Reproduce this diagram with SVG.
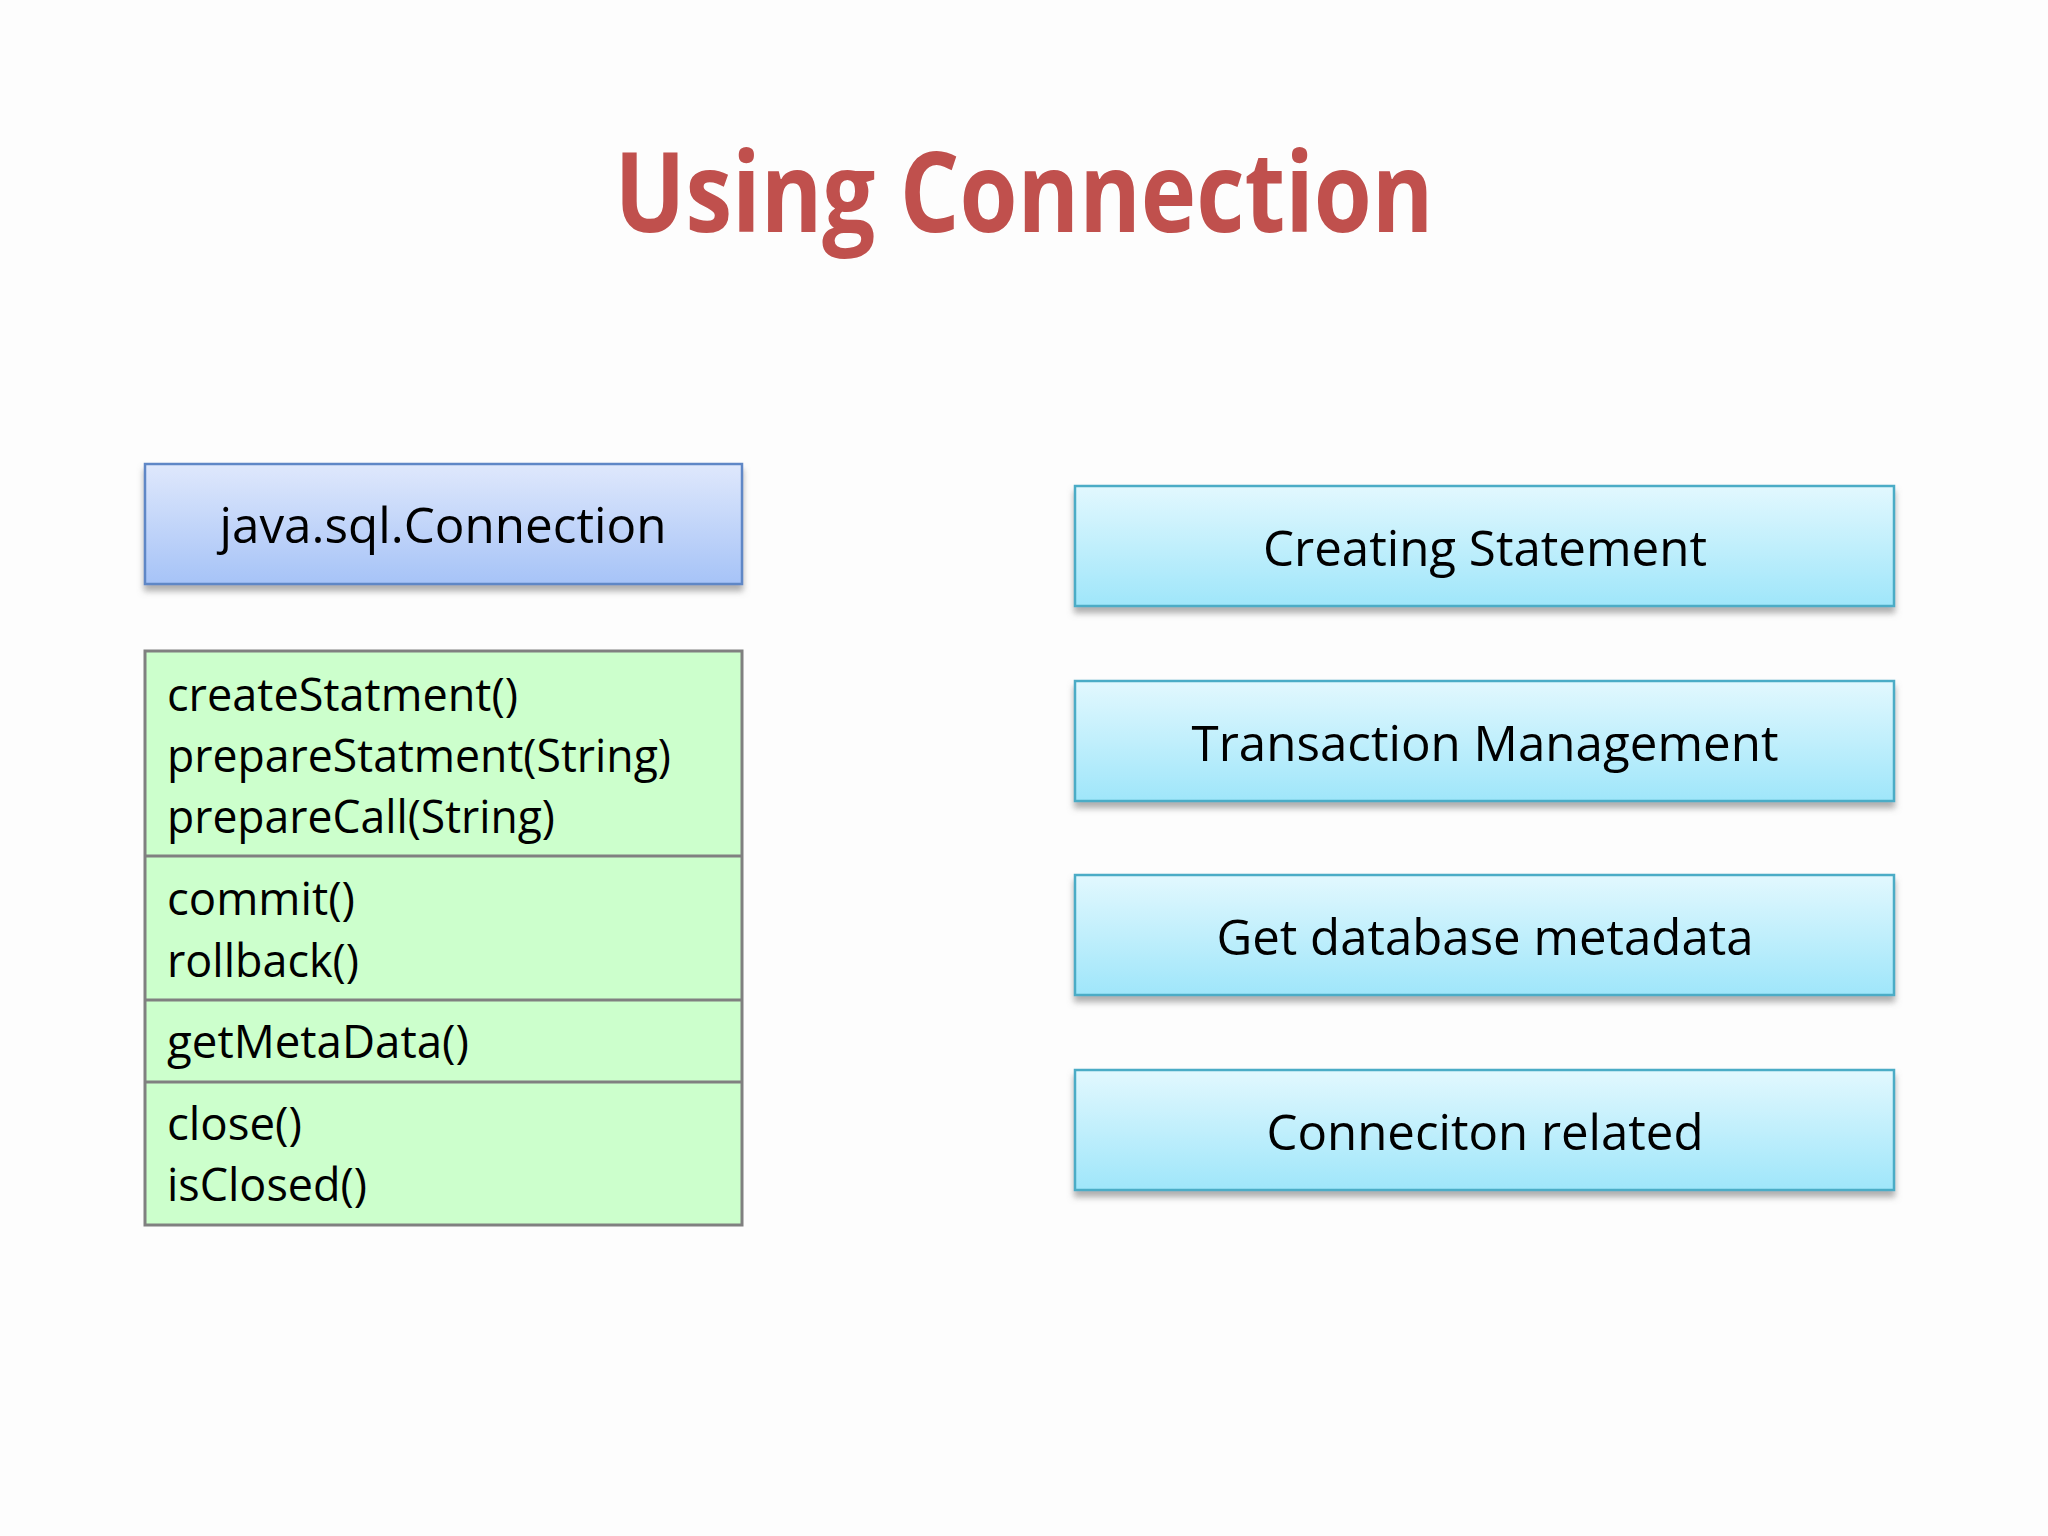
<svg xmlns="http://www.w3.org/2000/svg" width="2048" height="1536" viewBox="0 0 2048 1536">
  <defs>
    <linearGradient id="gBlue" x1="0" y1="0" x2="0" y2="1">
      <stop offset="0" stop-color="#DFE8FC"/>
      <stop offset="1" stop-color="#A6C3F7"/>
    </linearGradient>
    <linearGradient id="gCyan" x1="0" y1="0" x2="0" y2="1">
      <stop offset="0" stop-color="#E2F8FE"/>
      <stop offset="1" stop-color="#9FE6FA"/>
    </linearGradient>
    <filter id="shadow" x="-5%" y="-20%" width="110%" height="150%">
      <feDropShadow dx="0" dy="6" stdDeviation="3" flood-color="#7A7A7A" flood-opacity="0.6"/>
    </filter>
    <style>
      .title { font-family: "Open Sans", "Liberation Sans", sans-serif; font-weight: 700; font-size: 112px; fill: #C0504D; }
      .lbl { font-family: "Open Sans", "Liberation Sans", sans-serif; font-size: 50px; fill: #000; }
      .item { font-family: "Open Sans", "Liberation Sans", sans-serif; font-size: 46px; fill: #000; }
      .blue { fill: url(#gBlue); stroke: #5F87C6; stroke-width: 2.5; filter: url(#shadow); }
      .cyan { fill: url(#gCyan); stroke: #4BACC6; stroke-width: 2.5; filter: url(#shadow); }
      .green { fill: #CCFFCC; stroke: #808080; stroke-width: 3; }
      .div { stroke: #808080; stroke-width: 3; }
    </style>
  </defs>
  <rect width="2048" height="1536" fill="#FDFDFD"/>
  <text class="title" x="1024" y="232" text-anchor="middle" textLength="819" lengthAdjust="spacingAndGlyphs">Using Connection</text>

  <g id="connectors"/>

  <g id="java-connection">
    <rect class="blue" x="145" y="464" width="597" height="120"/>
    <text class="lbl" x="443" y="543" text-anchor="middle" textLength="447" lengthAdjust="spacingAndGlyphs">java.sql.Connection</text>
  </g>

  <g id="methods">
    <rect class="green" x="145" y="651" width="597" height="574"/>
    <line class="div" x1="145" y1="856" x2="742" y2="856"/>
    <line class="div" x1="145" y1="1000" x2="742" y2="1000"/>
    <line class="div" x1="145" y1="1082" x2="742" y2="1082"/>
    <text class="item" x="167" y="711" textLength="351" lengthAdjust="spacingAndGlyphs">createStatment()</text>
    <text class="item" x="167" y="772" textLength="504" lengthAdjust="spacingAndGlyphs">prepareStatment(String)</text>
    <text class="item" x="167" y="833" textLength="388" lengthAdjust="spacingAndGlyphs">prepareCall(String)</text>
    <text class="item" x="167" y="915" textLength="188" lengthAdjust="spacingAndGlyphs">commit()</text>
    <text class="item" x="167" y="977" textLength="192" lengthAdjust="spacingAndGlyphs">rollback()</text>
    <text class="item" x="167" y="1058" textLength="302" lengthAdjust="spacingAndGlyphs">getMetaData()</text>
    <text class="item" x="167" y="1140" textLength="135" lengthAdjust="spacingAndGlyphs">close()</text>
    <text class="item" x="167" y="1201" textLength="200" lengthAdjust="spacingAndGlyphs">isClosed()</text>
  </g>

  <g id="creating-statement">
    <rect class="cyan" x="1075" y="486" width="819" height="120"/>
    <text class="lbl" x="1485" y="566" text-anchor="middle" textLength="444" lengthAdjust="spacingAndGlyphs">Creating Statement</text>
  </g>
  <g id="transaction-management">
    <rect class="cyan" x="1075" y="681" width="819" height="120"/>
    <text class="lbl" x="1485" y="761" text-anchor="middle" textLength="587" lengthAdjust="spacingAndGlyphs">Transaction Management</text>
  </g>
  <g id="database-metadata">
    <rect class="cyan" x="1075" y="875" width="819" height="120"/>
    <text class="lbl" x="1485" y="955" text-anchor="middle" textLength="537" lengthAdjust="spacingAndGlyphs">Get database metadata</text>
  </g>
  <g id="connection-related">
    <rect class="cyan" x="1075" y="1070" width="819" height="120"/>
    <text class="lbl" x="1485" y="1150" text-anchor="middle" textLength="437" lengthAdjust="spacingAndGlyphs">Conneciton related</text>
  </g>
</svg>
